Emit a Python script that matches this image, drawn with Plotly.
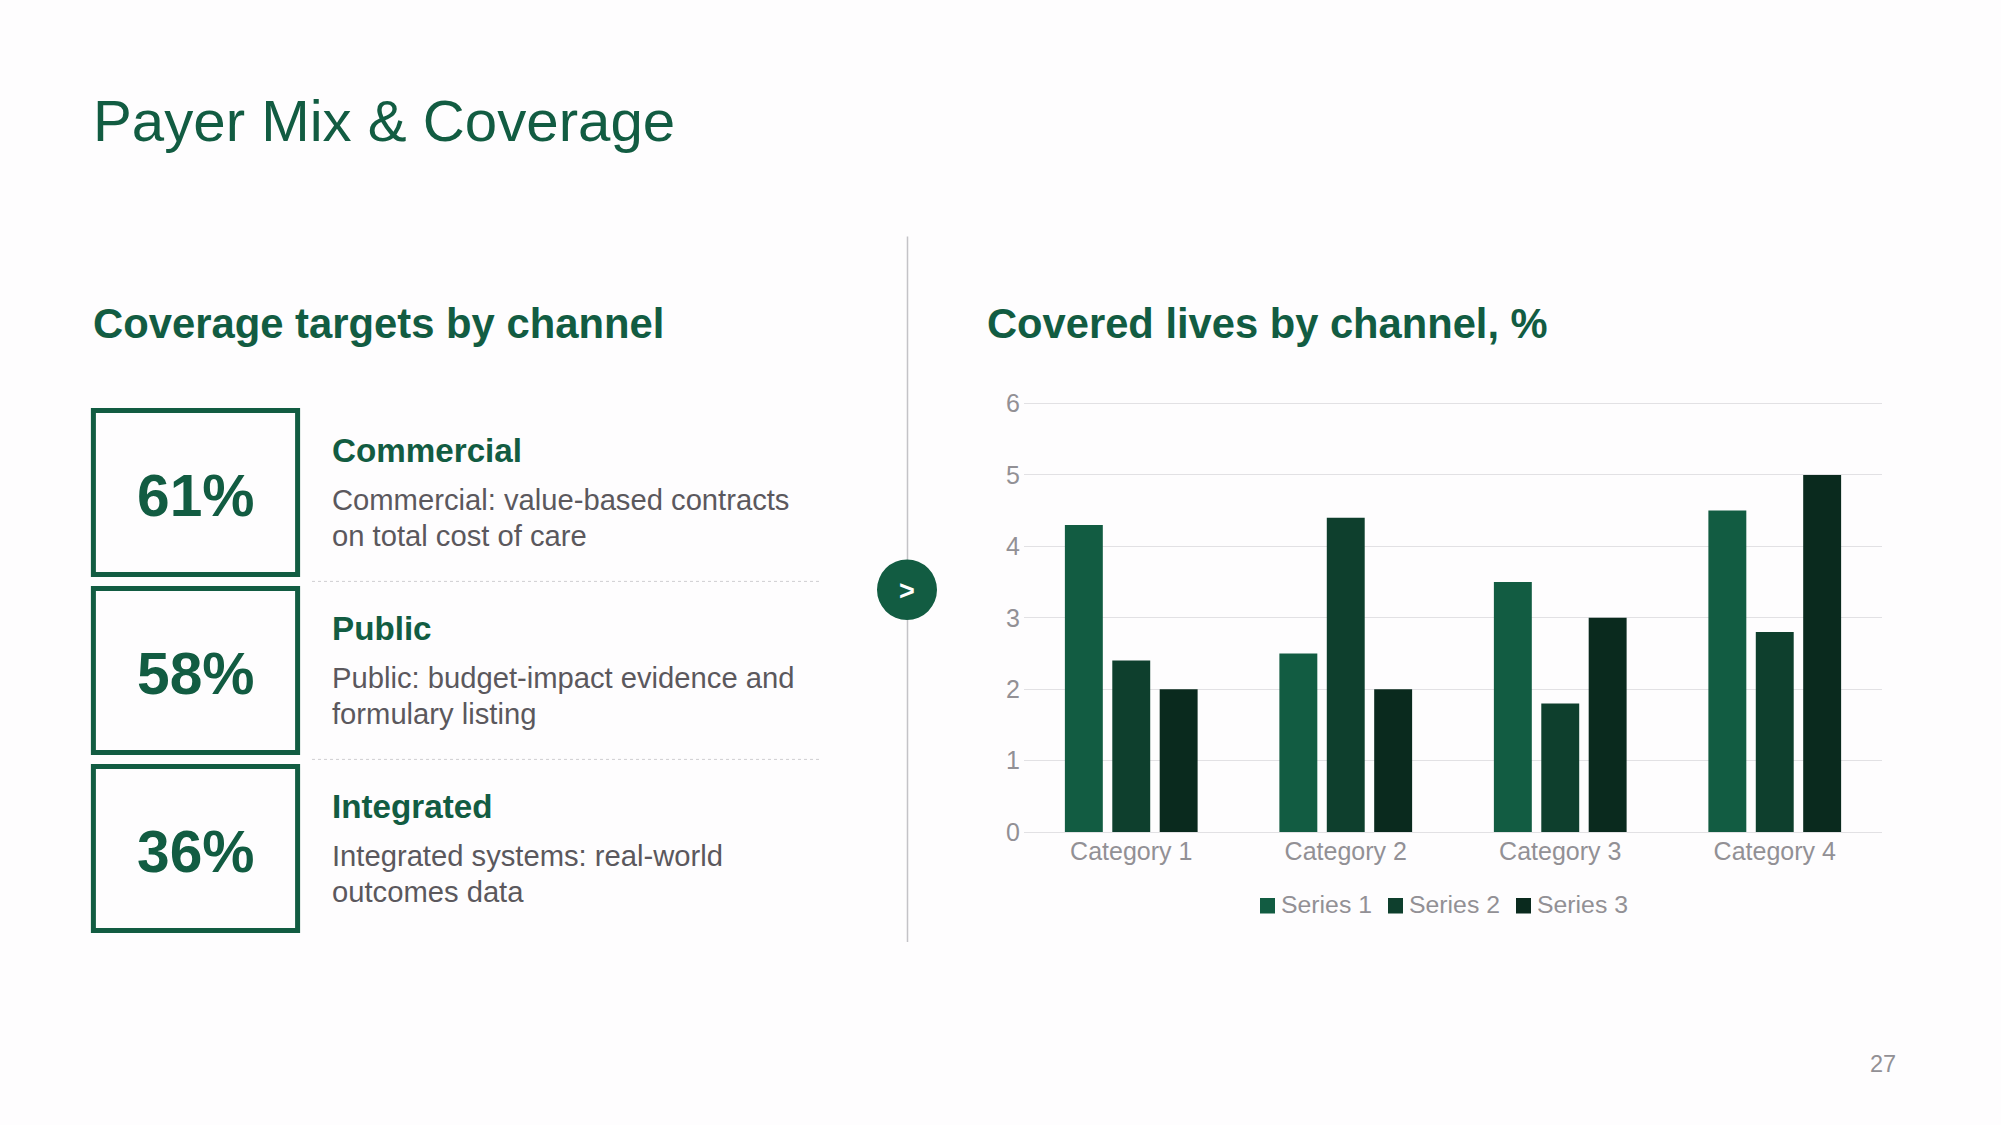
import plotly.graph_objects as go

W, H = 2001, 1125
GREEN = "#125C42"
DARK2 = "#0E3F2D"
DARK3 = "#0A2A1E"
BODY = "#5B585D"
GREY = "#929095"
GRID = "#E2E1E4"

categories = ["Category 1", "Category 2", "Category 3", "Category 4"]
series_names = ["Series 1", "Series 2", "Series 3"]
series_1 = [4.3, 2.5, 3.5, 4.5]
series_2 = [2.4, 4.4, 1.8, 2.8]
series_3 = [2.0, 2.0, 3.0, 5.0]
series_colors = [GREEN, DARK2, DARK3]
y_ticks = [0, 1, 2, 3, 4, 5, 6]

kpi_values = ["61%", "58%", "36%"]
kpi_heads = ["Commercial", "Public", "Integrated"]
kpi_lines = [
    ["Commercial: value-based contracts", "on total cost of care"],
    ["Public: budget-impact evidence and", "formulary listing"],
    ["Integrated systems: real-world", "outcomes data"],
]
box_tops = [410.4, 588.4, 766.4]
legend_swatch_left = [1260, 1388, 1516]


def px(x):
    return x / W


def py(y):
    return 1 - y / H


def label(x, y, text, size, color, bold=False, anchor="left"):
    return dict(
        x=px(x), y=py(y), xref="paper", yref="paper", text=f"<b>{text}</b>" if bold else text,
        showarrow=False, xanchor=anchor, yanchor="middle", align=anchor, borderpad=0, borderwidth=0,
        font=dict(family="Liberation Sans", size=size, color=color),
    )


def rect(x0, y0, x1, y1, line=None, width=0, fill=None):
    return dict(type="rect", xref="paper", yref="paper", x0=px(x0), x1=px(x1), y0=py(y0), y1=py(y1),
                line=dict(color=line or "rgba(0,0,0,0)", width=width), fillcolor=fill or "rgba(0,0,0,0)")


def hline(x0, x1, y, color, width=1, dash="solid"):
    return dict(type="line", xref="paper", yref="paper", x0=px(x0), x1=px(x1), y0=py(y), y1=py(y),
                line=dict(color=color, width=width, dash=dash))


fig = go.Figure()
for name, vals, col in zip(series_names, [series_1, series_2, series_3], series_colors):
    fig.add_bar(x=categories, y=vals, name=name, marker=dict(color=col, line=dict(width=0)), showlegend=False)

annotations = [
    label(92.5, 121, "Payer Mix &amp; Coverage", 58.2, GREEN),
    label(93, 323.5, "Coverage targets by channel", 41.8, GREEN, True),
    label(987, 323.5, "Covered lives by channel, %", 41.7, GREEN, True),
    label(1896, 1063.5, "27", 23.5, GREY, anchor="right"),
    label(907, 590.5, ">", 27, "#FFFFFF", True, "center"),
]
shapes = [
    dict(type="line", xref="paper", yref="paper", x0=px(907.5), x1=px(907.5), y0=py(236.5), y1=py(942),
         line=dict(color="#C4C3C7", width=1.5)),
    dict(type="circle", xref="paper", yref="paper", x0=px(877), x1=px(937), y0=py(559.5), y1=py(620),
         fillcolor=GREEN, line=dict(width=0)),
]
for i, top in enumerate(box_tops):
    shapes.append(rect(93.4, top, 297.6, top + 164, GREEN, 5))
    annotations.append(label(195.5, top + 85, kpi_values[i], 58.7, GREEN, True, "center"))
    annotations.append(label(331.5, top + 40, kpi_heads[i], 33.2, GREEN, True))
    annotations.append(label(331.5, top + 89.5, kpi_lines[i][0], 29.2, BODY))
    annotations.append(label(331.5, top + 125.5, kpi_lines[i][1], 29.2, BODY))
    if i < 2:
        shapes.append(hline(312, 820, top + 171, "#CFCED2", 1, "dot"))

for name, col, left in zip(series_names, series_colors, legend_swatch_left):
    shapes.append(rect(left, 898, left + 15, 913.5, fill=col))
    annotations.append(label(left + 21, 904.5, name, 24.8, GREY))

fig.update_layout(
    width=W, height=H, autosize=False,
    margin=dict(l=0, r=0, t=0, b=0, pad=0, autoexpand=False),
    paper_bgcolor="#FEFDFE", plot_bgcolor="#FEFDFE",
    barmode="group", bargap=0.337, bargroupgap=0.2,
    showlegend=False,
    font=dict(family="Liberation Sans", color=GREY, size=25),
    annotations=annotations, shapes=shapes,
    xaxis=dict(domain=[px(1024), px(1882)], type="category", showgrid=False, ticks="",
               showline=True, linecolor=GRID, linewidth=1.3, ticklabelstandoff=-3,
               tickfont=dict(size=25, color=GREY), anchor="y"),
    yaxis=dict(domain=[py(832), py(401.35)], range=[0, 6.03], tickvals=y_ticks, gridcolor=GRID, gridwidth=1.3,
               zeroline=False, showline=False, ticks="", ticklabelstandoff=3,
               tickfont=dict(size=25, color=GREY), anchor="x"),
)
fig.write_html("out.html", config=dict(displayModeBar=False),
               post_script="document.body.style.margin='0';document.body.style.overflow='hidden';")
